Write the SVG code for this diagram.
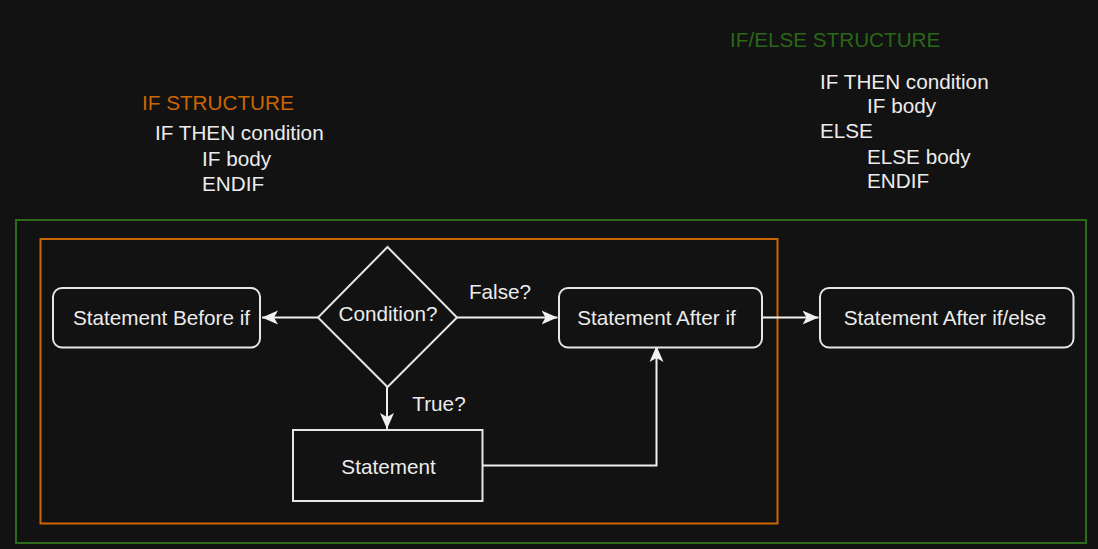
<svg xmlns="http://www.w3.org/2000/svg" width="1098" height="549" viewBox="0 0 1098 549">
<style>
  text { font-family: "Liberation Sans", Arial, sans-serif; font-size: 20.7px; fill: #ececec; }
  .node { fill: #121212; stroke: #e6e6e6; stroke-width: 2; }
  .edge { fill: none; stroke: #f0f0f0; stroke-width: 2; }
  .lbl { text-anchor: middle; }
</style>
<defs>
  <marker id="arr" viewBox="-16 -8 17 16" refX="0" refY="0" markerWidth="17" markerHeight="16" markerUnits="userSpaceOnUse" orient="auto">
    <path d="M0,0 L-16,-7 L-12,0 L-16,7 Z" fill="#f0f0f0"/>
  </marker>
</defs>
<rect x="0" y="0" width="1098" height="549" fill="#121212"/>

<g id="ifelse-container">
  <rect x="16" y="220" width="1070" height="323" fill="none" stroke="#2d6a1c" stroke-width="2"/>
</g>
<g id="if-container">
  <rect x="40.5" y="239" width="737" height="284.5" fill="none" stroke="#cc6600" stroke-width="2"/>
</g>

<g id="title-if">
  <text x="142" y="110" style="fill:#cc6600">IF STRUCTURE</text>
  <text x="155" y="140">IF THEN condition</text>
  <text x="202" y="166">IF body</text>
  <text x="202" y="191">ENDIF</text>
</g>
<g id="title-ifelse">
  <text x="730" y="47" style="fill:#2b6619">IF/ELSE STRUCTURE</text>
  <text x="820" y="89">IF THEN condition</text>
  <text x="867" y="113">IF body</text>
  <text x="820" y="138">ELSE</text>
  <text x="867" y="164">ELSE body</text>
  <text x="867" y="188">ENDIF</text>
</g>

<g id="connectors">
  <path class="edge" d="M318,317.5 L262,317.5" marker-end="url(#arr)"/>
  <path class="edge" d="M457,317.5 L557.5,317.5" marker-end="url(#arr)"/>
  <path class="edge" d="M387,387 L387,429" marker-end="url(#arr)"/>
  <path class="edge" d="M482.5,465.5 L656.5,465.5 L656.5,346" marker-end="url(#arr)"/>
  <path class="edge" d="M762.5,317.5 L818.5,317.5" marker-end="url(#arr)"/>
  <text x="500" y="299" class="lbl">False?</text>
  <text x="439" y="411" class="lbl">True?</text>
</g>

<g id="stmt-before">
  <rect class="node" x="53" y="288" width="207" height="59.5" rx="9"/>
  <text x="161.5" y="325" class="lbl">Statement Before if</text>
</g>
<g id="condition">
  <polygon class="node" points="387.5,247 457,317.5 387.5,387 318,317.5"/>
  <text x="388" y="321" class="lbl">Condition?</text>
</g>
<g id="stmt-after-if">
  <rect class="node" x="559" y="288" width="203" height="59.5" rx="9"/>
  <text x="656.5" y="325" class="lbl">Statement After if</text>
</g>
<g id="stmt-after-ifelse">
  <rect class="node" x="820" y="288" width="253.5" height="59.5" rx="9"/>
  <text x="945" y="325" class="lbl">Statement After if/else</text>
</g>
<g id="statement">
  <rect class="node" x="293" y="430" width="189.5" height="71"/>
  <text x="388.5" y="474" class="lbl">Statement</text>
</g>
</svg>
